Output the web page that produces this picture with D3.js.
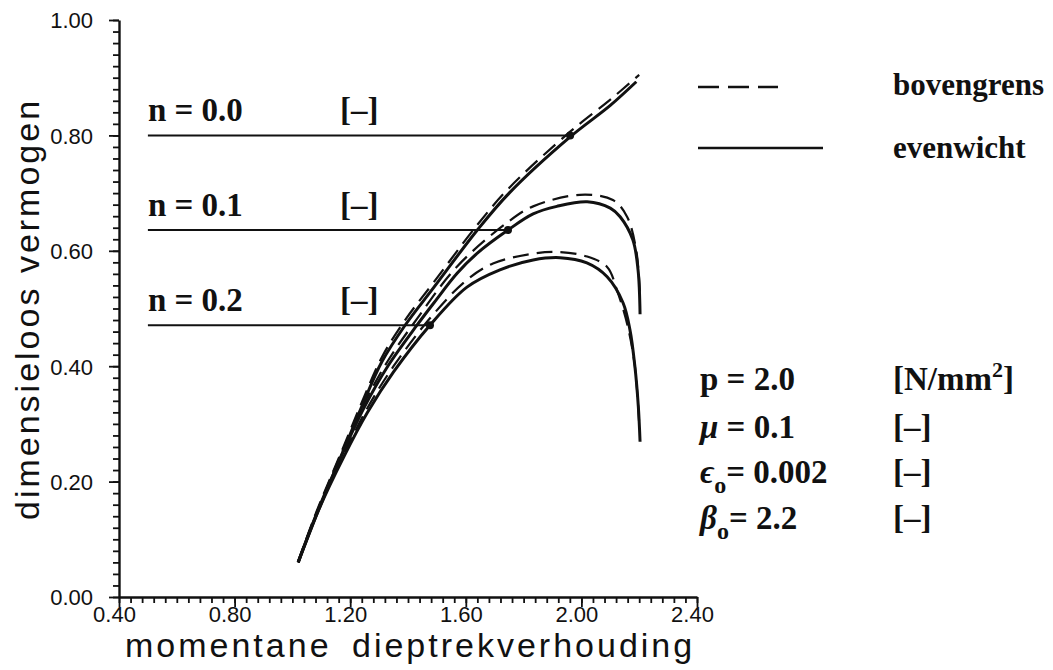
<!DOCTYPE html>
<html>
<head>
<meta charset="utf-8">
<script src="https://cdn.jsdelivr.net/npm/d3@7"></script>
<style>
  body { margin: 0; background: #fff; }
  svg { display: block; }
  .tick text { font-family: "Liberation Sans", Arial, sans-serif; font-size: 22px; fill: #111; }
  .ser { font-family: "Liberation Serif", "Times New Roman", serif; font-weight: bold; fill: #111; }
</style>
</head>
<body>
<script>
// x ticks / y ticks
var xTicks = [0.40, 0.80, 1.20, 1.60, 2.00, 2.40];
var yTicks = [0.00, 0.20, 0.40, 0.60, 0.80, 1.00];

// evenwicht (solid) curves
var even0X = [1.02, 1.085, 1.165, 1.24, 1.31, 1.39, 1.49, 1.64, 1.75, 1.96, 2.10, 2.19];
var even0Y = [0.06, 0.146, 0.240, 0.330, 0.408, 0.471, 0.537, 0.636, 0.70, 0.797, 0.852, 0.893];
var even1X = [1.02, 1.09, 1.17, 1.25, 1.33, 1.431, 1.49, 1.57, 1.64, 1.746, 1.833, 1.915, 2.02, 2.10, 2.134, 2.178, 2.196, 2.203];
var even1Y = [0.06, 0.15, 0.245, 0.33, 0.40, 0.471, 0.51, 0.561, 0.596, 0.636, 0.664, 0.677, 0.685, 0.674, 0.659, 0.619, 0.567, 0.49];
var even2X = [1.02, 1.09, 1.18, 1.26, 1.35, 1.476, 1.604, 1.718, 1.833, 1.926, 2.019, 2.089, 2.144, 2.168, 2.185, 2.197, 2.203];
var even2Y = [0.06, 0.15, 0.245, 0.32, 0.39, 0.471, 0.537, 0.567, 0.584, 0.588, 0.579, 0.555, 0.51, 0.463, 0.40, 0.33, 0.269];

// bovengrens (dashed) curves
var bov0X = [1.02, 1.085, 1.165, 1.24, 1.31, 1.39, 1.49, 1.64, 1.75, 1.96, 2.10, 2.20];
var bov0Y = [0.062, 0.150, 0.246, 0.337, 0.416, 0.480, 0.546, 0.645, 0.709, 0.806, 0.862, 0.905];
var bov1X = [1.02, 1.09, 1.17, 1.25, 1.33, 1.431, 1.57, 1.746, 1.833, 1.995, 2.109, 2.158, 2.19, 2.203];
var bov1Y = [0.06, 0.153, 0.25, 0.337, 0.409, 0.482, 0.573, 0.65, 0.677, 0.697, 0.688, 0.659, 0.60, 0.52];
var bov2X = [1.02, 1.09, 1.18, 1.26, 1.35, 1.476, 1.60, 1.694, 1.82, 1.915, 2.02, 2.089, 2.123, 2.16, 2.185, 2.20];
var bov2Y = [0.06, 0.153, 0.25, 0.328, 0.40, 0.483, 0.548, 0.578, 0.594, 0.598, 0.59, 0.572, 0.532, 0.47, 0.40, 0.30];

// n labels with their leader lines
var nLabels = ["n = 0.0", "n = 0.1", "n = 0.2"];
var leaderEndX = [1.961, 1.746, 1.476];
var leaderY = [0.80, 0.636, 0.471];
var leaderStartX = 0.50;

var svg = d3.select("body").append("svg")
    .attr("width", 1053).attr("height", 670);

var x = d3.scaleLinear().domain([0.4, 2.4]).range([119, 697]);
var y = d3.scaleLinear().domain([0, 1]).range([597, 20]);

// minor ticks first
svg.append("g").attr("transform", "translate(0,597)")
   .call(d3.axisBottom(x).tickValues(d3.range(0.40, 2.401, 0.04)).tickSize(6).tickFormat("").tickSizeOuter(0))
   .call(function(g) { g.select(".domain").remove(); });
svg.append("g").attr("transform", "translate(119,0)")
   .call(d3.axisLeft(y).tickValues(d3.range(0, 1.001, 0.02)).tickSize(6).tickFormat("").tickSizeOuter(0))
   .call(function(g) { g.select(".domain").remove(); });

var xAxis = svg.append("g").attr("transform", "translate(0,597)")
   .call(d3.axisBottom(x).tickValues(xTicks).tickSize(10).tickSizeOuter(0).tickFormat(d3.format(".2f")));
xAxis.selectAll("text").attr("dy", "0.55em").attr("dx", "-5");

var yAxis = svg.append("g").attr("transform", "translate(119,0)")
   .call(d3.axisLeft(y).tickValues(yTicks).tickSize(10).tickSizeOuter(0).tickFormat(d3.format(".2f")));
yAxis.selectAll("text").attr("dx", "-13").attr("dy", "0.36em");

svg.selectAll(".domain").attr("stroke", "#111").attr("stroke-width", 2.4);
svg.selectAll(".tick line").attr("stroke", "#111").attr("stroke-width", 1.8);

// axis titles
svg.append("text")
   .attr("x", 125).attr("y", 657)
   .style("font-family", "Liberation Sans, Arial, sans-serif")
   .style("font-size", "34px").style("letter-spacing", "3px").style("word-spacing", "8px")
   .attr("fill", "#111")
   .text("momentane dieptrekverhouding");

svg.append("text")
   .attr("transform", "translate(39,520) rotate(-90)")
   .style("font-family", "Liberation Sans, Arial, sans-serif")
   .style("font-size", "34px").style("letter-spacing", "3px")
   .attr("fill", "#111")
   .text("dimensieloos vermogen");

// curves
var line = d3.line()
    .x(function(d) { return x(d[0]); })
    .y(function(d) { return y(d[1]); })
    .curve(d3.curveCatmullRom.alpha(0.5));

var evenCurves = [d3.zip(even0X, even0Y), d3.zip(even1X, even1Y), d3.zip(even2X, even2Y)];
var bovCurves = [d3.zip(bov0X, bov0Y), d3.zip(bov1X, bov1Y), d3.zip(bov2X, bov2Y)];

svg.selectAll(".bov").data(bovCurves).enter().append("path")
   .attr("class", "bov")
   .attr("d", line)
   .attr("fill", "none").attr("stroke", "#111")
   .attr("stroke-width", 2.2).attr("stroke-dasharray", "16,8");

svg.selectAll(".even").data(evenCurves).enter().append("path")
   .attr("class", "even")
   .attr("d", line)
   .attr("fill", "none").attr("stroke", "#111")
   .attr("stroke-width", 3);

// leader lines to the curves
svg.selectAll(".leader").data(leaderY).enter().append("line")
   .attr("x1", x(leaderStartX))
   .attr("x2", function(d, i) { return x(leaderEndX[i]); })
   .attr("y1", function(d) { return y(d); })
   .attr("y2", function(d) { return y(d); })
   .attr("stroke", "#111").attr("stroke-width", 2);

svg.selectAll(".dot").data(leaderY).enter().append("circle")
   .attr("cx", function(d, i) { return x(leaderEndX[i]); })
   .attr("cy", function(d) { return y(d); })
   .attr("r", 4).attr("fill", "#111");

svg.selectAll(".nlab").data(nLabels).enter().append("text")
   .attr("class", "ser")
   .attr("x", x(leaderStartX))
   .attr("y", function(d, i) { return y(leaderY[i]) - 14; })
   .style("font-size", "33px")
   .text(function(d) { return d; });

svg.selectAll(".nunit").data(nLabels).enter().append("text")
   .attr("class", "ser")
   .attr("x", 340)
   .attr("y", function(d, i) { return y(leaderY[i]) - 14; })
   .style("font-size", "33px")
   .text("[–]");

// legend
svg.append("line").attr("x1", 698).attr("x2", 778).attr("y1", 87).attr("y2", 87)
   .attr("stroke", "#111").attr("stroke-width", 2.4).attr("stroke-dasharray", "21,9");
svg.append("line").attr("x1", 698).attr("x2", 823).attr("y1", 148).attr("y2", 148)
   .attr("stroke", "#111").attr("stroke-width", 2.4);
svg.append("text").attr("class", "ser").attr("x", 893).attr("y", 95)
   .style("font-size", "31px").text("bovengrens");
svg.append("text").attr("class", "ser").attr("x", 893).attr("y", 158)
   .style("font-size", "31px").text("evenwicht");

// parameters
var paramY = [390, 438, 483, 529];
var t;
t = svg.append("text").attr("class", "ser").attr("x", 700).attr("y", paramY[0]).style("font-size", "33px");
t.append("tspan").text("p = 2.0");

t = svg.append("text").attr("class", "ser").attr("x", 700).attr("y", paramY[1]).style("font-size", "33px");
t.append("tspan").style("font-style", "italic").text("μ");
t.append("tspan").text(" = 0.1");

t = svg.append("text").attr("class", "ser").attr("x", 700).attr("y", paramY[2]).style("font-size", "33px");
t.append("tspan").style("font-style", "italic").text("ϵ");
t.append("tspan").attr("dy", 10).style("font-size", "24px").text("o");
t.append("tspan").attr("dy", -10).text("= 0.002");

t = svg.append("text").attr("class", "ser").attr("x", 700).attr("y", paramY[3]).style("font-size", "33px");
t.append("tspan").style("font-style", "italic").text("β");
t.append("tspan").attr("dy", 10).style("font-size", "24px").text("o");
t.append("tspan").attr("dy", -10).text("= 2.2");

t = svg.append("text").attr("class", "ser").attr("x", 893).attr("y", paramY[0]).style("font-size", "33px");
t.append("tspan").text("[N/mm");
t.append("tspan").attr("dy", -13).style("font-size", "22px").text("2");
t.append("tspan").attr("dy", 13).text("]");

svg.selectAll(".unit").data(paramY.slice(1)).enter().append("text")
   .attr("class", "ser").attr("x", 893)
   .attr("y", function(d) { return d; })
   .style("font-size", "33px")
   .text("[–]");
</script>
</body>
</html>
